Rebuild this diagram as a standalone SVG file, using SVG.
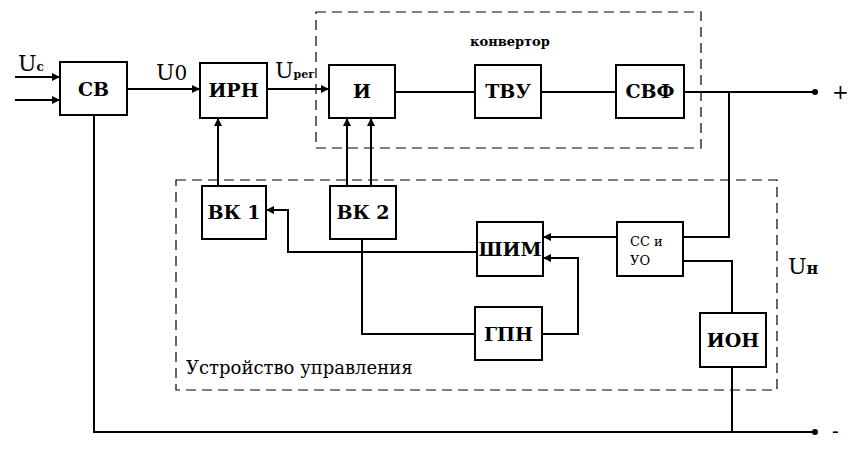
<svg xmlns="http://www.w3.org/2000/svg" width="853" height="451" viewBox="0 0 853 451">
<style>
text{font-family:"DejaVu Serif","Liberation Serif",serif}
.b{fill:#fff;stroke:#000;stroke-width:2}
.t{font-weight:bold;font-size:19px;text-anchor:middle}
.l{fill:none;stroke:#000;stroke-width:2}
.d{fill:none;stroke:#000;stroke-width:1.2;stroke-dasharray:10,6}
</style>
<defs><marker id="a" markerWidth="8" markerHeight="8" refX="7" refY="4" orient="auto" markerUnits="userSpaceOnUse"><path d="M0,0L8,4L0,8z"/></marker></defs>
<rect width="853" height="451" fill="#fff"/>
<rect class="d" x="316" y="12" width="385" height="136"/>
<rect class="d" x="176" y="180" width="601" height="210"/>
<g id="connectors">
<path class="l" d="M15,77H59" marker-end="url(#a)"/>
<path class="l" d="M15,100H59" marker-end="url(#a)"/>
<path class="l" d="M127,89H199" marker-end="url(#a)"/>
<path class="l" d="M267,89H328" marker-end="url(#a)"/>
<path class="l" d="M395,92H475M541,92H616M684,92H815"/>
<path class="l" d="M218,186V119" marker-end="url(#a)"/>
<path class="l" d="M347,186V119" marker-end="url(#a)"/>
<path class="l" d="M371,186V119" marker-end="url(#a)"/>
<path class="l" d="M729,92V237H683"/>
<path class="l" d="M617,237H544" marker-end="url(#a)"/>
<path class="l" d="M683,261H732V313M732,367V432"/>
<path class="l" d="M542,334H578V258H544" marker-end="url(#a)"/>
<path class="l" d="M477,252H288V210H267" marker-end="url(#a)"/>
<path class="l" d="M362,239V334H475"/>
<path class="l" d="M94,115V432H815"/>
<circle cx="815" cy="92" r="3"/><circle cx="815" cy="432" r="3"/>
</g>
<g id="cb"><rect class="b" x="60" y="62" width="67" height="53"/><text class="t" x="93.5" y="96">СВ</text></g>
<g id="irn"><rect class="b" x="200" y="63" width="67" height="55"/><text class="t" x="233.5" y="97">ИРН</text></g>
<g id="i"><rect class="b" x="329" y="65" width="66" height="53"/><text class="t" x="362" y="98">И</text></g>
<g id="tvu"><rect class="b" x="475" y="65" width="66" height="53"/><text class="t" x="508" y="98">ТВУ</text></g>
<g id="svf"><rect class="b" x="616" y="65" width="68" height="53"/><text class="t" x="650" y="98">СВФ</text></g>
<g id="vk1"><rect class="b" x="202" y="186" width="64" height="53"/><text class="t" x="234" y="219">ВК 1</text></g>
<g id="vk2"><rect class="b" x="330" y="186" width="66" height="53"/><text class="t" x="363" y="219">ВК 2</text></g>
<g id="shim"><rect class="b" x="477" y="222" width="66" height="54"/><text class="t" x="510" y="256">ШИМ</text></g>
<g id="ssuo"><rect class="b" x="617" y="222" width="66" height="54"/><text x="630" y="246" font-size="13">СС и</text><text x="630" y="265" font-size="13">УО</text></g>
<g id="gpn"><rect class="b" x="475" y="307" width="67" height="53"/><text class="t" x="508.5" y="341">ГПН</text></g>
<g id="ion"><rect class="b" x="700" y="313" width="66" height="54"/><text class="t" x="733" y="347">ИОН</text></g>
<g>
<text x="18" y="71" font-size="22">U<tspan font-size="12" font-weight="bold">c</tspan></text>
<text x="156" y="80" font-size="22">U<tspan font-size="20">0</tspan></text>
<text x="275" y="78" font-size="22">U<tspan font-size="11" font-weight="bold">рег</tspan></text>
<text x="788" y="274" font-size="22">U<tspan font-size="16" font-weight="bold">н</tspan></text>
<text x="510" y="46" font-size="13" font-weight="bold" text-anchor="middle">конвертор</text>
<text x="186" y="374" font-size="18">Устройство управления</text>
<text x="832" y="99" font-size="20">+</text>
<text x="832" y="438" font-size="20">-</text>
</g>
</svg>
